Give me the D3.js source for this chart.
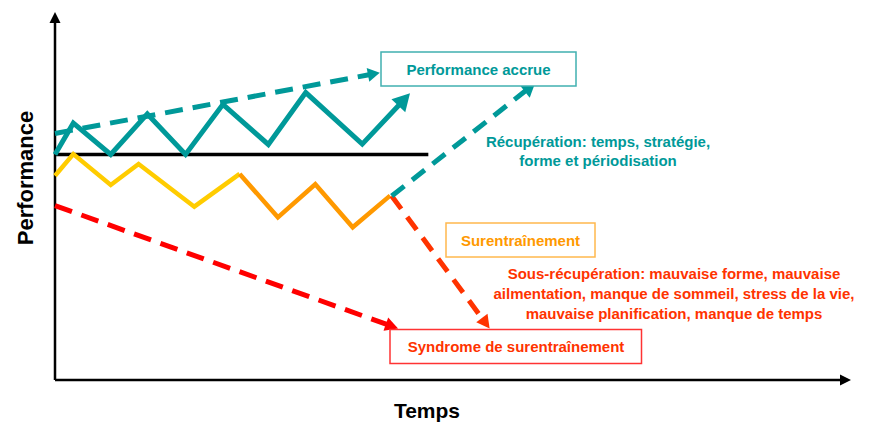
<!DOCTYPE html>
<html><head><meta charset="utf-8">
<script src="https://cdn.jsdelivr.net/npm/d3@7"></script>
<style>
body{margin:0;background:#fff}
svg{display:block}
text{font-family:"Liberation Sans",Arial,sans-serif;font-weight:bold}
</style>
</head><body>
<svg id="c" width="874" height="424"></svg>
<script>
// ---- data (time 0-100, performance 0-100) ----
const baselineT = [0, 46.9];
const baselineP = [61.3, 61.3];
const adaptT = [0, 2.3, 7.0, 11.6, 16.4, 21.1, 26.8, 31.5, 38.6, 44.6];
const adaptP = [61.3, 69.8, 61.3, 72.3, 61.3, 74.9, 64.0, 78.1, 64.1, 77.9];
const trendT = [0, 40.8];
const trendP = [67.0, 83.5];
const fatigueT = [0, 2.3, 7.0, 10.5, 17.5, 23.2];
const fatigueP = [55.5, 61.4, 53.0, 58.7, 47.1, 56.0];
const overT = [23.2, 28.0, 32.7, 37.4, 42.1];
const overP = [56.0, 44.2, 53.2, 41.5, 50.1];
const syndromeT = [0, 43.1];
const syndromeP = [47.4, 14.0];
const declineT = [42.3, 54.6];
const declineP = [50.0, 14.0];
const recoveryT = [42.3, 60.3];
const recoveryP = [50.0, 80.6];

const axisTitles = ["Temps", "Performance"];
const boxLabels = ["Performance accrue", "Surentraînement", "Syndrome de surentraînement"];
const recoveryNote = ["Récupération: temps, stratégie,", "forme et périodisation"];
const underNote = ["Sous-récupération: mauvaise forme, mauvaise",
                   "ailmentation, manque de sommeil, stress de la vie,",
                   "mauvaise planification, manque de temps"];

// ---- layout ----
const svg = d3.select("#c");
const x = d3.scaleLinear().domain([0, 100]).range([55, 851]);
const y = d3.scaleLinear().domain([0, 100]).range([380, 12]);

const TEAL = "#009999", YEL = "#FFCC00", ORA = "#FF9900", RED = "#FF0000", ORED = "#FF3300";

function pts(T, P) { return T.map((t, i) => [x(t), y(P[i])]); }

function arrowLine(points, o) {
  const n = points.length;
  const tip = points[n - 1], prev = points[n - 2];
  const dx = tip[0] - prev[0], dy = tip[1] - prev[1];
  const L = Math.hypot(dx, dy), ux = dx / L, uy = dy / L;
  const body = points.slice(0, n - 1);
  if (o.head) {
    body.push([tip[0] - ux * (o.head[0] - 1), tip[1] - uy * (o.head[0] - 1)]);
  } else body.push(tip);
  svg.append("path")
    .attr("d", d3.line()(body))
    .attr("fill", "none")
    .attr("stroke", o.color)
    .attr("stroke-width", o.width)
    .attr("stroke-linejoin", "miter")
    .attr("stroke-dasharray", o.dash || null);
  if (o.head) {
    const bx = tip[0] - ux * o.head[0], by = tip[1] - uy * o.head[0];
    const nx = -uy, ny = ux, h = o.head[1];
    svg.append("path")
      .attr("d", d3.line()([tip, [bx + nx * h, by + ny * h], [bx - nx * h, by - ny * h]]) + "Z")
      .attr("fill", o.color);
  }
}

// axes
arrowLine([[x(0), y(0)], [x(0), y(100)]], {color: "#000", width: 2.5, head: [11, 5.5]});
arrowLine([[x(0), y(0)], [x(100), y(0)]], {color: "#000", width: 2.5, head: [11, 5.5]});

// baseline
arrowLine(pts(baselineT, baselineP), {color: "#000", width: 3.5});

// series
arrowLine(pts(fatigueT, fatigueP), {color: YEL, width: 4.5});
arrowLine(pts(overT, overP), {color: ORA, width: 4.5});
arrowLine(pts(syndromeT, syndromeP), {color: RED, width: 5, dash: "18,10", head: [13, 7]});
arrowLine(pts(declineT, declineP), {color: ORED, width: 5, dash: "16,10", head: [13, 7]});
arrowLine(pts(recoveryT, recoveryP), {color: TEAL, width: 5, dash: "16,10", head: [13, 8]});
arrowLine(pts(trendT, trendP), {color: TEAL, width: 5, dash: "18,10", head: [12, 7]});
arrowLine(pts(adaptT, adaptP), {color: TEAL, width: 5, head: [17, 9.5]});

// boxes
const boxes = [
  {x0: 381, y0: 52, x1: 576, y1: 86, stroke: "#40B0B0", fill: TEAL, label: boxLabels[0], cx: 478.5, by: 74.5},
  {x0: 446, y0: 223, x1: 595, y1: 257, stroke: "#FFB84D", fill: ORA, label: boxLabels[1], cx: 520.5, by: 245.5},
  {x0: 390, y0: 329.5, x1: 641.5, y1: 363.5, stroke: "#FF3333", fill: ORED, label: boxLabels[2], cx: 516, by: 351.5}
];
boxes.forEach(b => {
  svg.append("rect").attr("x", b.x0).attr("y", b.y0)
    .attr("width", b.x1 - b.x0).attr("height", b.y1 - b.y0)
    .attr("fill", "#fff").attr("stroke", b.stroke).attr("stroke-width", 1.5);
  svg.append("text").attr("x", b.cx).attr("y", b.by)
    .attr("text-anchor", "middle").attr("font-size", 15)
    .attr("fill", b.fill).text(b.label);
});

// notes
recoveryNote.forEach((t, i) => svg.append("text")
  .attr("x", 598).attr("y", 146.5 + i * 19.5)
  .attr("text-anchor", "middle").attr("font-size", 15).attr("fill", TEAL).text(t));
underNote.forEach((t, i) => svg.append("text")
  .attr("x", 674).attr("y", 279 + i * 20.2)
  .attr("text-anchor", "middle").attr("font-size", 15).attr("fill", ORED).text(t));

// axis titles
svg.append("text").attr("x", 427).attr("y", 418)
  .attr("text-anchor", "middle").attr("font-size", 21).attr("fill", "#000").text(axisTitles[0]);
svg.append("text").attr("transform", "translate(33,178) rotate(-90)")
  .attr("text-anchor", "middle").attr("font-size", 22).attr("fill", "#000").text(axisTitles[1]);
</script>
</body></html>
